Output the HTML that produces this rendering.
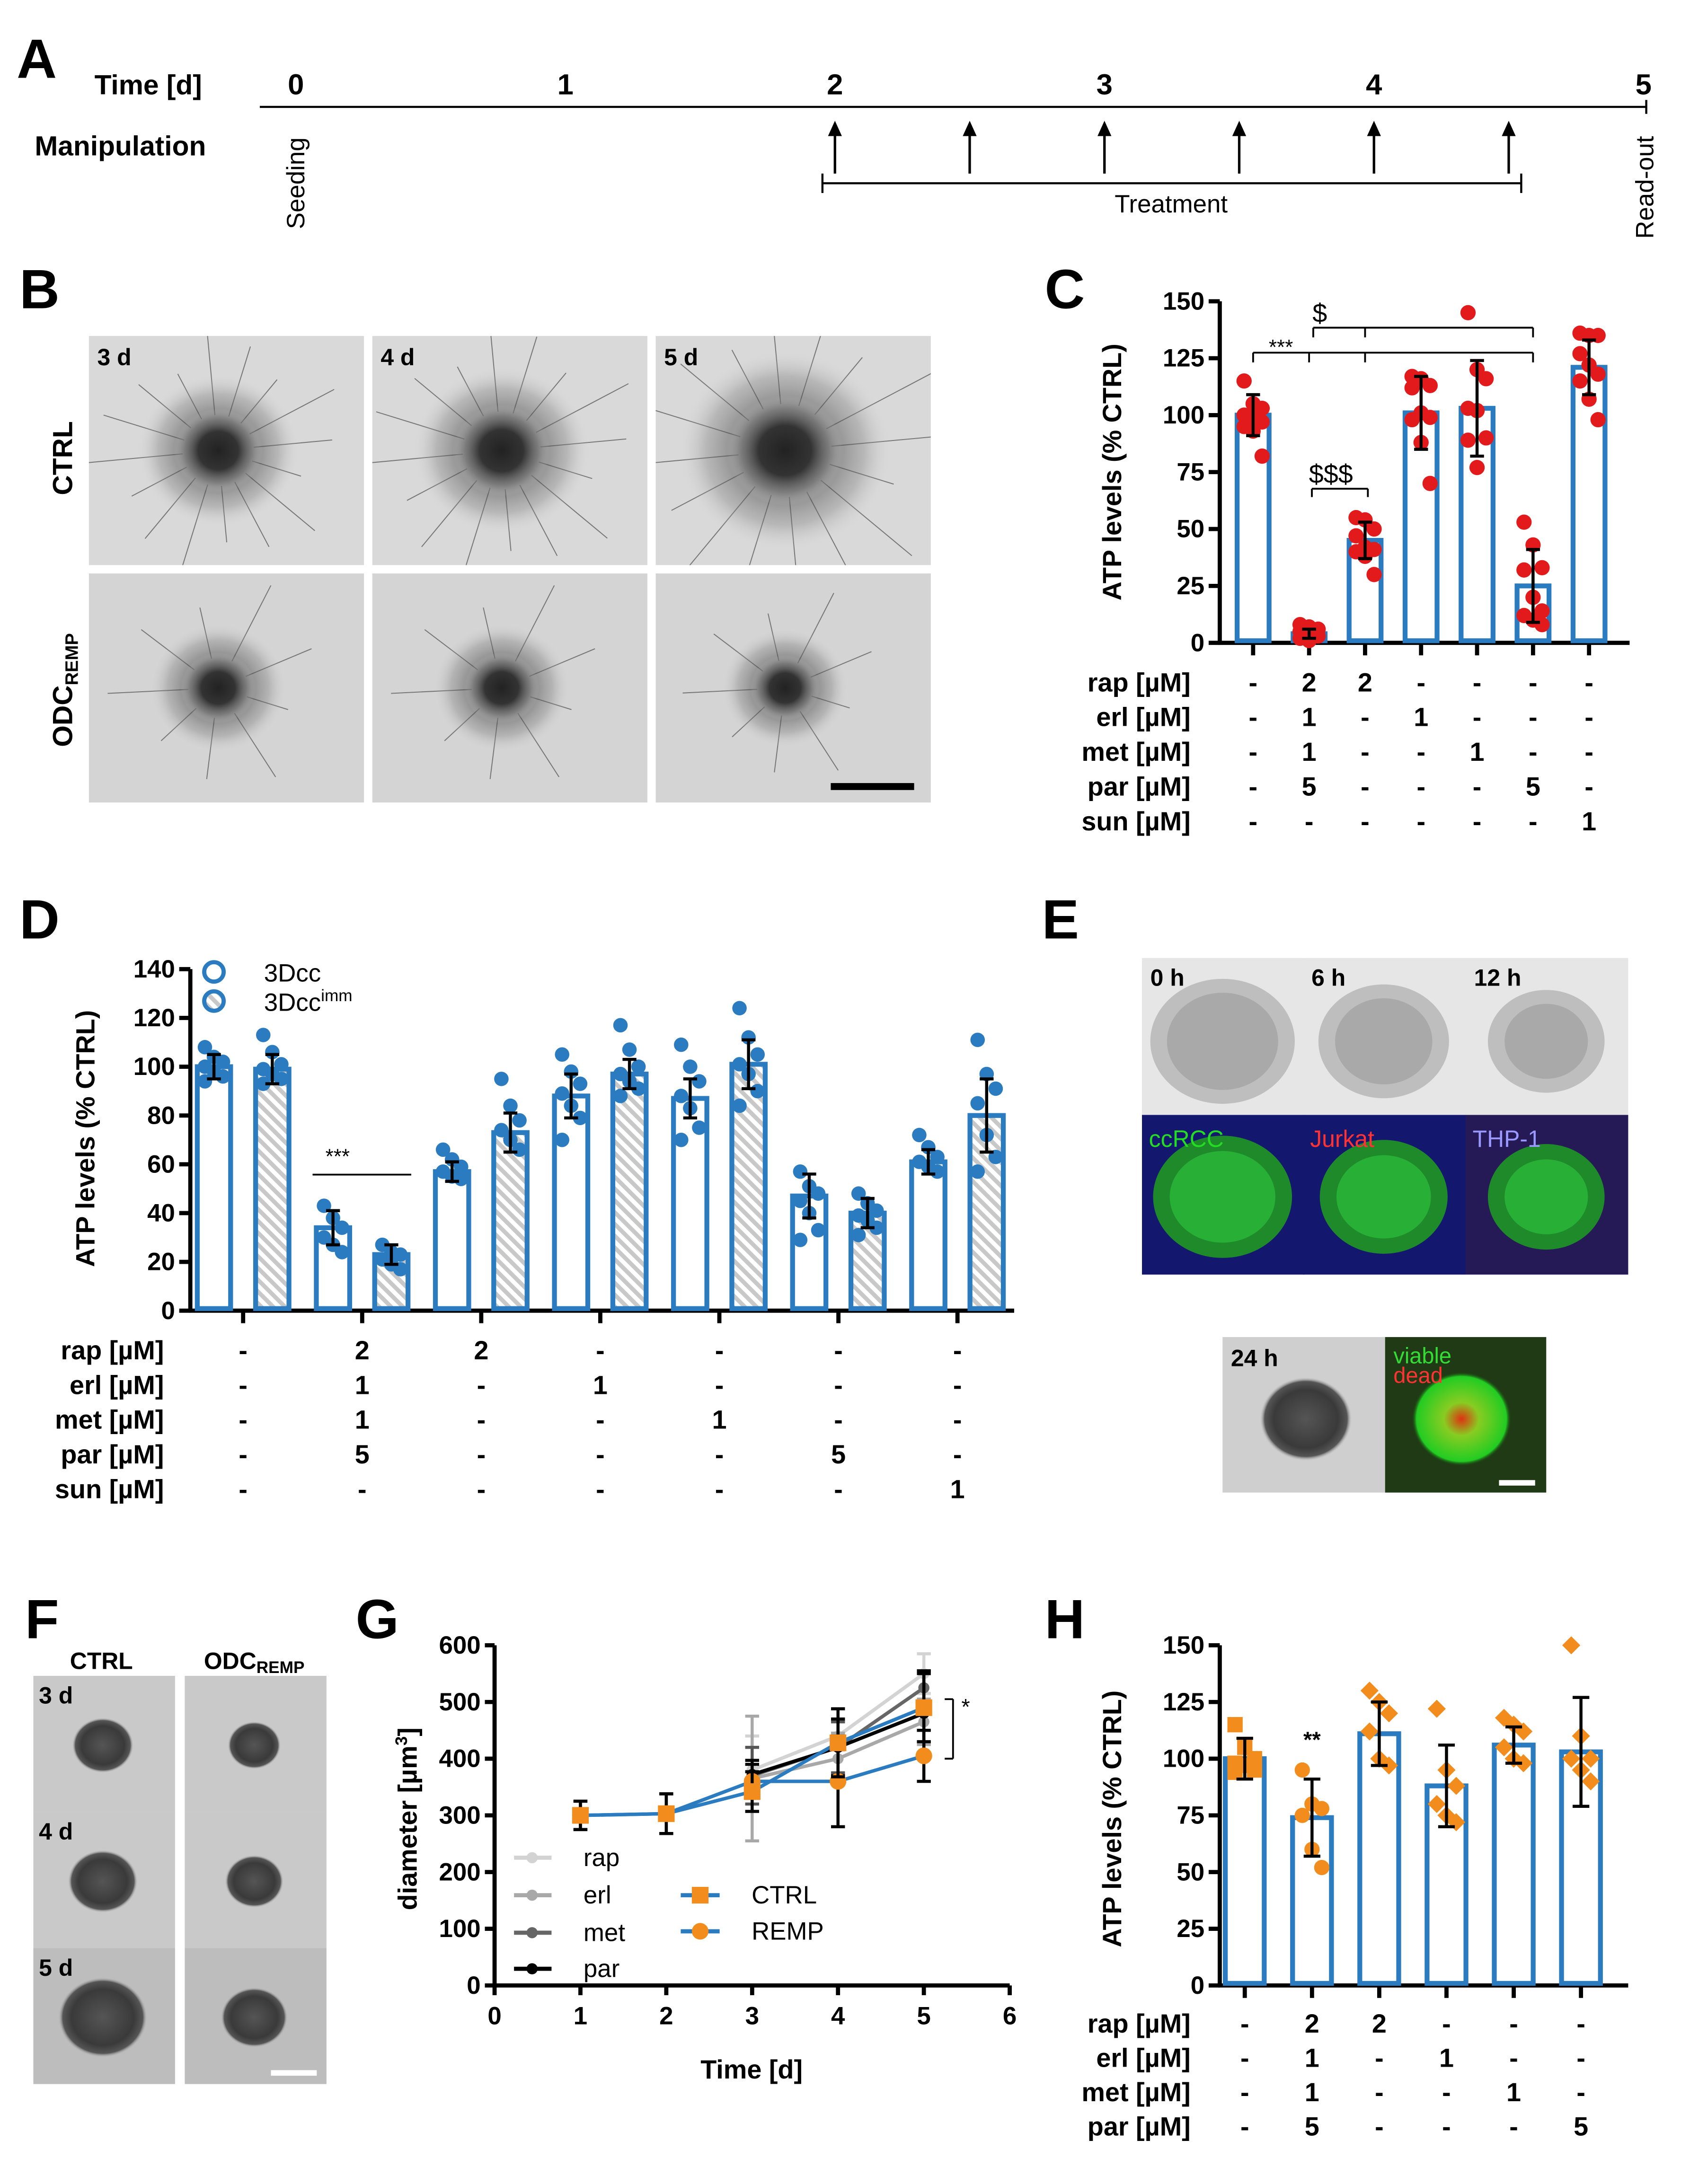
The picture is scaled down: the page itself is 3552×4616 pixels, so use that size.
<!DOCTYPE html>
<html><head><meta charset="utf-8"><style>
html,body{margin:0;padding:0;background:#fff}
svg{display:block}
text{font-family:"Liberation Sans",Arial,sans-serif}
</style></head><body>
<svg id="fig" width="3552" height="4616" viewBox="0 0 1210 1573" preserveAspectRatio="none" xmlns="http://www.w3.org/2000/svg">
<defs>
<radialGradient id="blob" cx="50%" cy="50%" r="50%"><stop offset="0" stop-color="#222"/><stop offset="0.45" stop-color="#333"/><stop offset="0.75" stop-color="#777" stop-opacity="0.7"/><stop offset="1" stop-color="#ccc" stop-opacity="0"/></radialGradient>
<radialGradient id="blob2" cx="50%" cy="50%" r="50%"><stop offset="0" stop-color="#555"/><stop offset="0.7" stop-color="#3a3a3a"/><stop offset="0.9" stop-color="#555"/><stop offset="1" stop-color="#bbb" stop-opacity="0"/></radialGradient>
<radialGradient id="gspot" cx="50%" cy="50%" r="50%"><stop offset="0" stop-color="#dd3311"/><stop offset="0.35" stop-color="#88cc22"/><stop offset="0.9" stop-color="#22cc22"/><stop offset="1" stop-color="#1a3a10" stop-opacity="0"/></radialGradient>
<pattern id="hatch" width="6" height="6" patternUnits="userSpaceOnUse" patternTransform="rotate(-45)"><rect width="6" height="6" fill="#fff"/><rect width="3" height="6" fill="#c8c8c8"/></pattern>
</defs>
<g id="root"></g>
</svg>
<script>
// ---------- data ----------
const cTicks=[0,25,50,75,100,125,150];
const cMeans=[100,4,45,101,103,25,121];
const cErr=[9,2,8,16,21,16,12];
const cDots=[[115,105,103,100,99,97,95,93,82],[8,7,6,5,4,3,2,1],[55,54,50,47,42,41,40,38,30],[117,116,113,112,101,99,98,88,70],[145,120,116,103,102,90,89,77],[53,43,33,32,20,14,12,10,8],[136,135,135,127,122,118,115,107,98]];
const cTable=[["rap [µM]",["-","2","2","-","-","-","-"]],["erl [µM]",["-","1","-","1","-","-","-"]],["met [µM]",["-","1","-","-","1","-","-"]],["par [µM]",["-","5","-","-","-","5","-"]],["sun [µM]",["-","-","-","-","-","-","1"]]];
const dTicks=[0,20,40,60,80,100,120,140];
const dMeansA=[100,34,57,88,87,47,61];
const dErrA=[5,7,4,9,8,9,5];
const dMeansB=[99,23,73,97,101,40,80];
const dErrB=[6,4,8,6,10,6,15];
const dDotsA=[[108,104,102,100,98,96,94],[43,38,34,30,27,24],[66,62,59,57,55,54],[105,98,93,89,84,79,70],[109,100,94,88,83,75,70],[57,51,48,45,40,33,29],[72,67,63,61,59,57]];
const dDotsB=[[113,106,101,99,97,95,93],[27,24,23,21,19,17],[95,84,78,74,70,66],[117,107,100,97,94,91,88],[124,112,105,101,97,90,84],[48,44,41,39,37,34,31],[111,97,91,85,72,63,57]];
const dTable=[["rap [µM]",["-","2","2","-","-","-","-"]],["erl [µM]",["-","1","-","1","-","-","-"]],["met [µM]",["-","1","-","-","1","-","-"]],["par [µM]",["-","5","-","-","-","5","-"]],["sun [µM]",["-","-","-","-","-","-","1"]]];
const gDays=[1,2,3,4,5];
const gXTicks=[0,1,2,3,4,5,6];
const gYTicks=[0,100,200,300,400,500,600];
const gRap=[null,null,380,440,550];
const gRapE=[0,0,60,25,35];
const gErl=[null,null,365,400,465];
const gErlE=[0,0,110,45,40];
const gMet=[null,null,370,420,525];
const gMetE=[0,0,50,45,30];
const gPar=[null,null,372,420,480];
const gParE=[0,0,25,50,75];
const gCtrl=[300,303,342,428,490];
const gCtrlE=[25,35,35,60,60];
const gRemp=[300,303,360,360,405];
const gRempE=[25,35,30,80,45];
const hTicks=[0,25,50,75,100,125,150];
const hMeans=[100,74,111,88,106,103];
const hErr=[9,17,14,18,8,24];
const hDots=[[115,105,100,98,97,95,94],[95,80,78,75,60,52],[130,125,120,112,100,97],[122,95,88,80,75,72],[118,115,112,105,100,98],[150,110,100,100,95,90]];
const hShapes=["sq","ci","di","di","di","di"];
const hTable=[["rap [µM]",["-","2","2","-","-","-"]],["erl [µM]",["-","1","-","1","-","-"]],["met [µM]",["-","1","-","-","1","-"]],["par [µM]",["-","5","-","-","-","5"]]];

// ---------- helpers ----------
const NS="http://www.w3.org/2000/svg";
const root=document.getElementById('root');
function el(tag,attrs,parent,txt){const e=document.createElementNS(NS,tag);for(const k in attrs)e.setAttribute(k,attrs[k]);if(txt!==undefined)e.textContent=txt;(parent||root).appendChild(e);return e;}
function T(x,y,s,size,opts,parent){opts=opts||{};const a={x:x,y:y,'font-size':size,fill:opts.fill||'#000'};if(opts.bold!==false)a['font-weight']='bold';if(opts.anchor)a['text-anchor']=opts.anchor;if(opts.rot)a.transform='rotate('+opts.rot+' '+x+' '+y+')';const e=el('text',a,parent,s);return e;}
function L(x1,y1,x2,y2,w,c,parent){return el('line',{x1:x1,y1:y1,x2:x2,y2:y2,stroke:c||'#000','stroke-width':w||2},parent);}
function grp(name){const g=el('g',{});return g;}
const BLUE='#2a7bbf', RED='#e31a1c', ORANGE='#f28c1c';
const FS=19;

// ---------- Panel A ----------
(function(){const g=grp('panel-a-timeline');
T(12,56,'A',40,{name:'panel-letter-a'},g);
T(68,68,'Time  [d]',20,{name:'time-label'},g);
L(187,77,1185,77,1.5,'#000',g);L(1185,72,1185,82,1.5,'#000',g);
const xs=[213,407,601,795,989,1183];
xs.forEach((x,i)=>T(x,68,String(i),21,{anchor:'middle',name:'day-tick-label'},g));
T(25,112,'Manipulation',20,{name:'manipulation-label'},g);
[601,698,795,892,989,1086].forEach(x=>{L(x,125,x,96,1.8,'#000',g);el('path',{d:`M${x-5} ${98}L${x} ${87}L${x+5} ${98}Z`,fill:'#000'},g);});
L(592,132,1095,132,1.5,'#000',g);L(592,125,592,139,1.5,'#000',g);L(1095,125,1095,139,1.5,'#000',g);
T(843,153,'Treatment',18,{anchor:'middle',bold:false,name:'treatment-label'},g);
T(219,165,'Seeding',18,{rot:-90,bold:false,name:'seeding-label'},g);
T(1190,172,'Read-out',18,{rot:-90,bold:false,name:'readout-label'},g);
})();

function micro(g,x,y,w,h,bg,r,spikes){
 el('rect',{x:x,y:y,width:w,height:h,fill:bg},g);
 const cx=x+w*0.47,cy=y+h*0.5;
 const cl=el('clipPath',{id:'cp'+x+'_'+y},g);el('rect',{x:x,y:y,width:w,height:h},cl);
 const sg=el('g',{'clip-path':'url(#cp'+x+'_'+y+')'},g);
 for(let i=0;i<spikes;i++){const a=i*2*Math.PI/spikes+0.3;const len=r*(1.3+((i*37)%10)/12);L(cx+Math.cos(a)*r*0.8,cy+Math.sin(a)*r*0.8,cx+Math.cos(a)*len*1.5,cy+Math.sin(a)*len*1.5,0.7,'#777',sg);}
 el('ellipse',{cx:cx,cy:cy,rx:r*1.8,ry:r*1.7,fill:'url(#blob)',opacity:0.5},sg);
 el('ellipse',{cx:cx,cy:cy,rx:r,ry:r*0.95,fill:'url(#blob)'},sg);
}
// ---------- Panel B ----------
(function(){const g=grp('panel-b-images');
T(14,222,'B',40,{name:'panel-letter-b'},g);
const cols=[64,268,472],rows=[242,413],labs=['3 d','4 d','5 d'],rad=[[32,35,42],[27,27,25]];
rows.forEach((ry,ri)=>cols.forEach((cx,ci)=>{micro(g,cx,ry,198,165,ri==0?'#d9d9d9':'#d4d4d4',rad[ri][ci],ri==0?16:9);}));
cols.forEach((cx,ci)=>T(cx+6,263,labs[ci],17,{name:'timepoint-label'},g));
T(52,330,'CTRL',20,{rot:-90,anchor:'middle',name:'ctrl-row-label'},g);
const t=T(52,497,'ODC',20,{rot:-90,anchor:'middle',name:'odc-remp-row-label'},g);
el('tspan',{'font-size':13,dy:4},t,'REMP');
el('rect',{x:598,y:564,width:60,height:5,fill:'#000'},g);
})();

function table(g,rows,xs,y0,dy,lx){rows.forEach((r,i)=>{T(lx,y0+i*dy,r[0],FS,{anchor:'end',name:'condition-row-label'},g);r[1].forEach((v,j)=>T(xs[j],y0+i*dy,v,FS,{anchor:'middle',name:'condition-value'},g));});}

// ---------- Panel C ----------
(function(){const g=grp('panel-c-chart');
T(752,222,'C',40,{name:'panel-letter-c'},g);
const ax=878,y0=463,y1=217,vmax=150;const Y=v=>y0-(v/vmax)*(y0-y1);
const X=i=>902+i*40.3;
L(ax,y1,ax,y0+1,3,'#000',g);L(ax-1,y0,1173,y0,3,'#000',g);
cTicks.forEach(t=>{L(ax-8,Y(t),ax,Y(t),3,'#000',g);T(ax-11,Y(t)+6,String(t),18,{anchor:'end',name:'y-tick-label'},g);});
T(807,340,'ATP levels (% CTRL)',19,{rot:-90,anchor:'middle',name:'y-axis-title'},g);
cMeans.forEach((m,i)=>{const x=X(i);L(x,y0,x,y0+9,3,'#000',g);
 const b=el('rect',{x:x-11.5,y:Y(m),width:23,height:y0-Y(m)-1.5,fill:'#fff',stroke:BLUE,'stroke-width':3.5},g);
 cDots[i].forEach((d,k)=>{const c=el('circle',{cx:x+((k%3)-1)*6.5,cy:Y(d),r:5.5,fill:RED},g);});
 L(x,Y(m-cErr[i]),x,Y(m+cErr[i]),2.2,'#000',g);L(x-5,Y(m+cErr[i]),x+5,Y(m+cErr[i]),2.2,'#000',g);L(x-5,Y(m-cErr[i]),x+5,Y(m-cErr[i]),2.2,'#000',g);});
L(X(0),254,X(5),254,1.3,'#000',g);[0,1,2,5].forEach(i=>L(X(i),254,X(i),261,1.3,'#000',g));
T(922,255,'***',15,{anchor:'middle',bold:false,name:'significance-marker'},g);
L(X(1)+3,236,X(5),236,1.3,'#000',g);[X(1)+3,X(2),X(5)].forEach(x=>L(x,236,x,243,1.3,'#000',g));
T(950,232,'$',19,{anchor:'middle',bold:false,name:'significance-marker'},g);
L(X(1)+2,352,X(2)+2,352,1.3,'#000',g);L(X(1)+2,352,X(1)+2,358,1.3,'#000',g);L(X(2)+2,352,X(2)+2,358,1.3,'#000',g);
T(958,348,'$$$',19,{anchor:'middle',bold:false,name:'significance-marker'},g);
table(g,cTable,[0,1,2,3,4,5,6].map(X),498,25,857);
})();

// ---------- Panel D ----------
(function(){const g=grp('panel-d-chart');
T(14,676,'D',40,{name:'panel-letter-d'},g);
const ax=137,y0=944,y1=698,vmax=140;const Y=v=>y0-(v/vmax)*(y0-y1);
const C=i=>175+i*85.7;
L(ax,y1,ax,y0+1,3,'#000',g);L(ax-1,y0,730,y0,3,'#000',g);
dTicks.forEach(t=>{L(ax-8,Y(t),ax,Y(t),3,'#000',g);T(ax-11,Y(t)+6,String(t),18,{anchor:'end',name:'y-tick-label'},g);});
T(68,820,'ATP levels (% CTRL)',19,{rot:-90,anchor:'middle',name:'y-axis-title'},g);
function bar(x,m,e,dots,hatch){const b=el('rect',{x:x-12,y:Y(m),width:24,height:y0-Y(m)-1.5,fill:hatch?'url(#hatch)':'#fff',stroke:BLUE,'stroke-width':3.5},g);
 dots.forEach((d,k)=>{const c=el('circle',{cx:x+((k%3)-1)*6.5,cy:Y(d),r:5.2,fill:BLUE},g);});
 L(x,Y(m-e),x,Y(m+e),2.2,'#000',g);L(x-5,Y(m+e),x+5,Y(m+e),2.2,'#000',g);L(x-5,Y(m-e),x+5,Y(m-e),2.2,'#000',g);}
dMeansA.forEach((m,i)=>{const c=C(i);L(c,y0,c,y0+9,3,'#000',g);bar(c-21,m,dErrA[i],dDotsA[i],false);bar(c+21,dMeansB[i],dErrB[i],dDotsB[i],true);});
el('circle',{cx:154,cy:700,r:7,fill:'#fff',stroke:BLUE,'stroke-width':3},g);
el('circle',{cx:154,cy:721,r:7,fill:'url(#hatch)',stroke:BLUE,'stroke-width':3},g);
T(190,707,'3Dcc',18,{bold:false,name:'legend-label'},g);
const lt=T(190,728,'3Dcc',18,{bold:false,name:'legend-label'},g);el('tspan',{'font-size':12,dy:-7},lt,'imm');
L(225,846,296,846,1.3,'#000',g);T(243,838,'***',15,{anchor:'middle',bold:false,name:'significance-marker'},g);
table(g,dTable,[0,1,2,3,4,5,6].map(C),979,25,118);
})();

// ---------- Panel E ----------
(function(){const g=grp('panel-e-images');
T(750,676,'E',40,{name:'panel-letter-e'},g);
const xs=[822,938,1055],labs=['0 h','6 h','12 h'],flab=[['ccRCC','#22dd22'],['Jurkat','#ff3333'],['THP-1','#9999ff']];
xs.forEach((x,i)=>{el('rect',{x:x,y:690,width:117,height:113,fill:'#e6e6e6'},g);
 el('ellipse',{cx:x+58,cy:750,rx:52-i*5,ry:45-i*4,fill:'#b4b4b4',opacity:0.8},g);
 el('ellipse',{cx:x+58,cy:750,rx:40-i*5,ry:35-i*4,fill:'#a0a0a0',opacity:0.7},g);
 T(x+6,710,labs[i],17,{name:'timepoint-label'},g);
 el('rect',{x:x,y:803,width:117,height:115,fill:i==2?'#251a55':'#14176e'},g);
 el('ellipse',{cx:x+58,cy:862,rx:50-i*4,ry:44-i*3,fill:'#1e8a2a'},g);
 el('ellipse',{cx:x+58,cy:862,rx:38-i*4,ry:33-i*3,fill:'#2ab83a',opacity:0.8},g);
 T(x+5,826,flab[i][0],17,{bold:false,fill:flab[i][1],name:'stain-label'},g);});
el('rect',{x:880,y:963,width:117,height:112,fill:'#cfcfcf'},g);
el('ellipse',{cx:940,cy:1022,rx:33,ry:30,fill:'url(#blob2)'},g);
T(886,984,'24 h',17,{name:'timepoint-label'},g);
el('rect',{x:997,y:963,width:116,height:112,fill:'#1f3a14'},g);
el('ellipse',{cx:1052,cy:1022,rx:36,ry:34,fill:'url(#gspot)'},g);
T(1003,982,'viable',16,{bold:false,fill:'#33dd33',name:'viable-label'},g);
T(1003,996,'dead',16,{bold:false,fill:'#ff3333',name:'dead-label'},g);
L(1079,1068,1105,1068,4,'#fff',g);
})();

// ---------- Panel F ----------
(function(){const g=grp('panel-f-images');
T(18,1180,'F',40,{name:'panel-letter-f'},g);
T(73,1202,'CTRL',17,{anchor:'middle',name:'ctrl-column-label'},g);
const t=T(183,1202,'ODC',17,{anchor:'middle',name:'odc-remp-column-label'},g);el('tspan',{'font-size':12,dy:3},t,'REMP');
const cols=[24,133],rows=[1207,1305,1403],labs=['3 d','4 d','5 d'],r=[[22,19],[25,21],[32,24]];
rows.forEach((y,ri)=>{cols.forEach((x,ci)=>{el('rect',{x:x,y:y,width:102,height:98,fill:ri==2?'#bdbdbd':'#c9c9c9'},g);el('ellipse',{cx:x+50,cy:y+50,rx:r[ri][ci],ry:r[ri][ci]*0.9,fill:'url(#blob2)'},g);});T(28,y+20,labs[ri],17,{name:'timepoint-label'},g);});
L(195,1493,228,1493,4,'#fff',g);
})();

// ---------- Panel G ----------
(function(){const g=grp('panel-g-chart');
T(256,1180,'G',40,{name:'panel-letter-g'},g);
const ax=356,y0=1430,y1=1185;const X=d=>ax+d*61.8;const Y=v=>y0-v/600*(y0-y1);
L(ax,y1,ax,y0+1,3,'#000',g);L(ax-1,y0,X(6),y0,3,'#000',g);
gYTicks.forEach(t=>{L(ax-7,Y(t),ax,Y(t),3,'#000',g);T(ax-10,Y(t)+6,String(t),18,{anchor:'end',name:'y-tick-label'},g);});
gXTicks.forEach(t=>{L(X(t),y0,X(t),y0+7,3,'#000',g);T(X(t),y0+28,String(t),18,{anchor:'middle',name:'x-tick-label'},g);});
T(541,1497,'Time [d]',19,{anchor:'middle',name:'x-axis-title'},g);
const yt=T(300,1310,'diameter [µm',19,{rot:-90,anchor:'middle',name:'y-axis-title'},g);el('tspan',{'font-size':12,dy:-7},yt,'3');el('tspan',{dy:7},yt,']');
function series(vals,errs,color,marker,mcol,name,ecol){
 const pts=[];vals.forEach((v,i)=>{if(v!==null)pts.push([X(gDays[i]),Y(v),errs[i]]);});
 pts.forEach(p=>{const e=p[2]/600*(y0-y1);L(p[0],p[1]-e,p[0],p[1]+e,2.2,ecol,g);L(p[0]-5,p[1]-e,p[0]+5,p[1]-e,2.2,ecol,g);L(p[0]-5,p[1]+e,p[0]+5,p[1]+e,2.2,ecol,g);});
 const pl=el('polyline',{points:pts.map(p=>p[0]+','+p[1]).join(' '),fill:'none',stroke:color,'stroke-width':2.5},g);
 pts.forEach(p=>{let m;if(marker=='sq')m=el('rect',{x:p[0]-6,y:p[1]-6,width:12,height:12,fill:mcol},g);else m=el('circle',{cx:p[0],cy:p[1],r:marker=='big'?6:4,fill:mcol},g);});}
series(gRap,gRapE,'#d3d3d3','c','#d3d3d3','rap','#d3d3d3');
series(gErl,gErlE,'#a8a8a8','c','#a8a8a8','erl','#a8a8a8');
series(gMet,gMetE,'#666','c','#666','met','#555');
series(gPar,gParE,'#000','c','#000','par','#000');
series(gRemp,gRempE,BLUE,'big',ORANGE,'remp','#000');
series(gCtrl,gCtrlE,BLUE,'sq',ORANGE,'ctrl','#000');
const leg=[['rap','#d3d3d3',1338],['erl','#a8a8a8',1365],['met','#666',1392],['par','#000',1418]];
leg.forEach(l=>{L(370,l[2],397,l[2],3,l[1],g);el('circle',{cx:383,cy:l[2],r:4,fill:l[1]},g);T(420,l[2]+6,l[0],18,{bold:false,name:'legend-label'},g);});
L(490,1365,518,1365,3,BLUE,g);el('rect',{x:498,y:1359,width:12,height:12,fill:ORANGE},g);T(541,1371,'CTRL',18,{bold:false,name:'legend-label'},g);
L(490,1391,518,1391,3,BLUE,g);el('circle',{cx:504,cy:1391,r:6,fill:ORANGE},g);T(541,1397,'REMP',18,{bold:false,name:'legend-label'},g);
L(680,Y(505),686,Y(505),1.3,'#000',g);L(686,Y(505),686,Y(400),1.3,'#000',g);L(680,Y(400),686,Y(400),1.3,'#000',g);
T(692,Y(478),'*',16,{bold:false,name:'significance-marker'},g);
})();

// ---------- Panel H ----------
(function(){const g=grp('panel-h-chart');
T(752,1180,'H',40,{name:'panel-letter-h'},g);
const ax=878,y0=1430,y1=1185;const Y=v=>y0-v/150*(y0-y1);const X=i=>896+i*48.4;
L(ax,y1,ax,y0+1,3,'#000',g);L(ax-1,y0,1172,y0,3,'#000',g);
hTicks.forEach(t=>{L(ax-8,Y(t),ax,Y(t),3,'#000',g);T(ax-11,Y(t)+6,String(t),18,{anchor:'end',name:'y-tick-label'},g);});
T(807,1310,'ATP levels (% CTRL)',19,{rot:-90,anchor:'middle',name:'y-axis-title'},g);
hMeans.forEach((m,i)=>{const x=X(i);L(x,y0,x,y0+9,3,'#000',g);
 const b=el('rect',{x:x-14,y:Y(m),width:28,height:y0-Y(m)-1.5,fill:'#fff',stroke:BLUE,'stroke-width':3.5},g);
 hDots[i].forEach((d,k)=>{const cx=x+((k%3)-1)*7,cy=Y(d);let mk;
  if(hShapes[i]=='sq')mk=el('rect',{x:cx-5.5,y:cy-5.5,width:11,height:11,fill:ORANGE},g);
  else if(hShapes[i]=='ci')mk=el('circle',{cx:cx,cy:cy,r:5.5,fill:ORANGE},g);
  else mk=el('path',{d:`M${cx} ${cy-6.5}L${cx+6.5} ${cy}L${cx} ${cy+6.5}L${cx-6.5} ${cy}Z`,fill:ORANGE},g);
  });
 const e=hErr[i];L(x,Y(m-e),x,Y(m+e),2.2,'#000',g);L(x-6,Y(m+e),x+6,Y(m+e),2.2,'#000',g);L(x-6,Y(m-e),x+6,Y(m-e),2.2,'#000',g);});
T(X(1),Y(105),'**',16,{anchor:'middle',name:'significance-marker'},g);
table(g,hTable,[0,1,2,3,4,5].map(X),1464,24.7,857);
})();
</script>
</body></html>
